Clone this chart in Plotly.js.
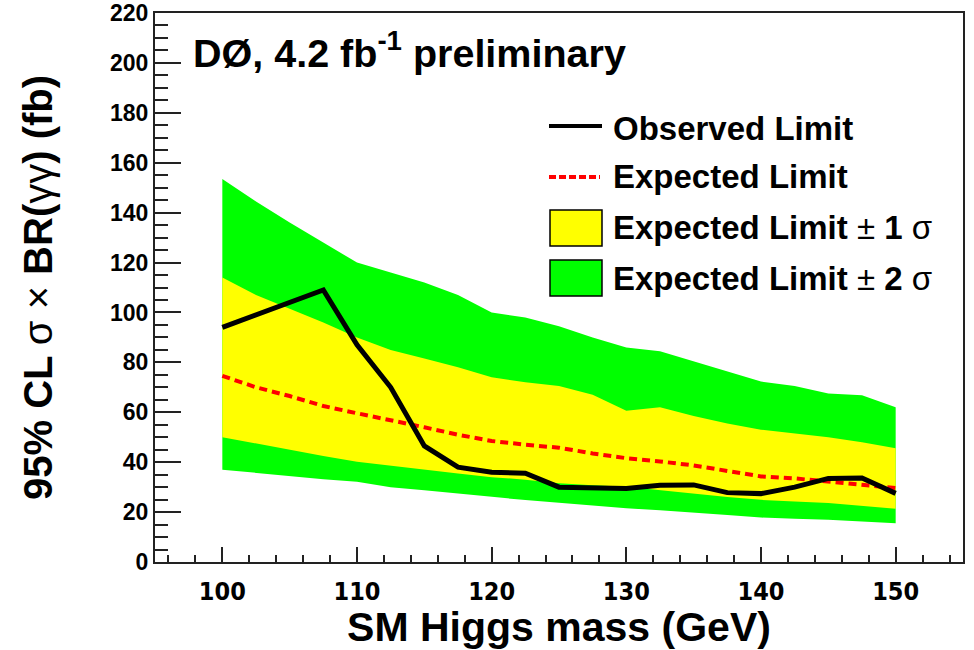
<!DOCTYPE html>
<html>
<head>
<meta charset="utf-8">
<script src="https://cdn.plot.ly/plotly-3.0.1.min.js"></script>
<style>html,body{margin:0;padding:0;background:#fff;}#chart{width:974px;height:650px;}</style>
</head>
<body>
<div id="chart"></div>
<script>
// Higgs mass points (GeV)
const mass = [100,102.5,105,107.5,110,112.5,115,117.5,120,122.5,125,127.5,130,132.5,135,137.5,140,142.5,145,147.5,150];
// Observed limit (fb)
const observed = [94,99,104,109,87,70,46.5,38,36,35.6,30,29.8,29.5,30.8,30.9,27.8,27.4,30,33.5,33.7,27.5];
// Expected limit (fb)
const expected = [74.6,70,66.5,62.5,59.6,57,54,51,48.5,47,45.8,43.5,41.6,40.3,38.7,36.5,34.3,33.5,32.3,30.8,29.6];
// +-1 sigma band
const plus1 = [114,107,101.5,96,90,85,81.5,78,74,72,70.5,67,60.6,62,58.5,55.5,53,51.5,50,48,45.6];
const minus1 = [50,47.5,45,42.5,40.2,38.5,37,35.5,34,33,31.6,30.8,30.2,29,27.4,26,24.9,24.2,23.6,22.5,21.3];
// +-2 sigma band
const plus2 = [153.5,144.5,136,128,120,116,112,107,100,98,94.5,90,86,84.5,80.5,76.5,72.3,70.5,67.5,66.8,62];
const minus2 = [37,35.7,34.5,33.2,32.2,30,28.8,27.5,26.2,24.8,23.7,22.7,21.5,20.7,19.8,18.8,17.8,17.3,16.9,16.3,15.5];

const legendLabels = ['Observed Limit','Expected Limit','Expected Limit <span style="font-weight:normal">±</span> 1 <span style="font-weight:normal">σ</span>','Expected Limit <span style="font-weight:normal">±</span> 2 <span style="font-weight:normal">σ</span>'];

const band = (up, lo) => ({x: mass.concat(mass.slice().reverse()), y: up.concat(lo.slice().reverse())});
const b2 = band(plus2, minus2), b1 = band(plus1, minus1);

const traces = [
  {x: b2.x, y: b2.y, type:'scatter', mode:'lines', fill:'toself', fillcolor:'#00ff00', line:{width:0,color:'#00ff00'}, hoverinfo:'skip', showlegend:false},
  {x: b1.x, y: b1.y, type:'scatter', mode:'lines', fill:'toself', fillcolor:'#ffff00', line:{width:0,color:'#ffff00'}, hoverinfo:'skip', showlegend:false},
  {x: mass, y: expected, type:'scatter', mode:'lines', line:{color:'#ff0000', width:4, dash:'8px,5px'}, showlegend:false},
  {x: mass, y: observed, type:'scatter', mode:'lines', line:{color:'#000000', width:5}, showlegend:false}
];

// plot area in px for legend placement
const L=155, R=963, T=13, B=562;
const px = v => (v-L)/(R-L);
const py = v => (B-v)/(B-T);

const shapes = [
  {type:'line', xref:'paper', yref:'paper', x0:px(549), x1:px(602), y0:py(126), y1:py(126), line:{color:'#000', width:4}},
  {type:'line', xref:'paper', yref:'paper', x0:px(549), x1:px(600), y0:py(177), y1:py(177), line:{color:'#ff0000', width:4, dash:'7px,3px'}},
  {type:'rect', xref:'paper', yref:'paper', x0:px(550), x1:px(602), y0:py(210), y1:py(246), fillcolor:'#ffff00', line:{color:'#000', width:1.5}},
  {type:'rect', xref:'paper', yref:'paper', x0:px(550), x1:px(602), y0:py(260), y1:py(296), fillcolor:'#00ff00', line:{color:'#000', width:1.5}}
];
const rowY = [128, 177, 228, 278];
const annotations = legendLabels.map((t,i) => ({
  text: '<b>'+t+'</b>', xref:'paper', yref:'paper', x:px(611), y:py(rowY[i]), xanchor:'left', yanchor:'middle',
  showarrow:false, font:{family:'Liberation Sans, Arial, sans-serif', size:33, color:'#000'}
}));
annotations.push({text:'<b>DØ, 4.2 fb<sup>-1</sup> preliminary</b>', xref:'paper', yref:'paper', x:px(191), y:py(50), xanchor:'left', yanchor:'middle', showarrow:false, font:{family:'Liberation Sans, Arial, sans-serif', size:39.5, color:'#000'}});

const layout = {
  width:974, height:650,
  margin:{l:L, r:974-R, t:T, b:650-B},
  paper_bgcolor:'#fff', plot_bgcolor:'#fff',
  showlegend:false,
  xaxis:{
    range:[95,155], tick0:100, dtick:10, ticks:'inside', ticklen:15, tickwidth:2, tickcolor:'#222',
    minor:{dtick:2, ticks:'inside', ticklen:7.5, tickwidth:2, tickcolor:'#222'},
    showline:true, linewidth:2, linecolor:'#222', mirror:true, showgrid:false, zeroline:false,
    ticklabelstandoff:6,
    tickfont:{family:'Liberation Sans Narrow, DejaVu Sans Condensed, Arial, sans-serif', size:25, color:'#000', weight:'bold'},
    title:{text:'<b>SM Higgs mass (GeV)</b>', font:{family:'Liberation Sans, Arial, sans-serif', size:41, color:'#000'}, standoff:6}
  },
  yaxis:{
    range:[0,220], tick0:0, dtick:20, ticks:'inside', ticklen:26, tickwidth:2, tickcolor:'#222',
    minor:{dtick:5, ticks:'inside', ticklen:13, tickwidth:2, tickcolor:'#222'},
    showline:true, linewidth:2, linecolor:'#222', mirror:true, showgrid:false, zeroline:false,
    tickfont:{family:'Liberation Sans, Arial, sans-serif', size:23, color:'#000', weight:'bold'},
    title:{text:'<b>95% CL <span style="font-weight:normal">σ × </span>BR(<span style="font-weight:normal">γγ</span>) (fb)</b>', font:{family:'Liberation Sans, Arial, sans-serif', size:40, color:'#000'}, standoff:45}
  },
  shapes: shapes,
  annotations: annotations
};

Plotly.newPlot('chart', traces, layout, {displayModeBar:false, staticPlot:true});
</script>
</body>
</html>
